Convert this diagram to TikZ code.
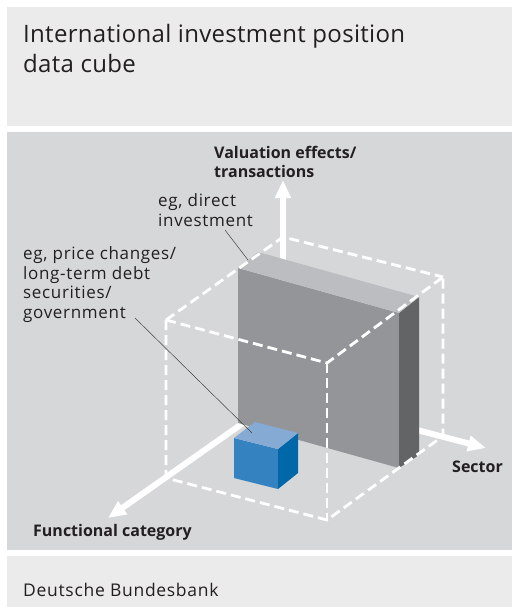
\documentclass[tikz,border=0pt]{standalone}
\usepackage{fontspec}
\setmainfont{Open Sans}
\newfontfamily\lblfont[LetterSpace=4]{Open Sans}
\newfontfamily\titlefont[LetterSpace=1.3]{Open Sans}
\usetikzlibrary{arrows.meta}
\definecolor{panellight}{HTML}{EBEBEC}
\definecolor{paneldark}{HTML}{D6D7D9}
\definecolor{txt}{HTML}{231F20}
\definecolor{slabfront}{HTML}{939598}
\definecolor{slabtop}{HTML}{BCBDC0}
\definecolor{slabside}{HTML}{636466}
\definecolor{cubetop}{HTML}{85ABD5}
\definecolor{cubefront}{HTML}{3483C0}
\definecolor{cubeside}{HTML}{0067A8}
\tikzset{
  axisarrow/.style={draw=white, line width=6pt, -{Triangle[width=15pt,length=18pt]}},
  dashedge/.style={draw=white, line width=2.8pt, dash pattern=on 10pt off 5pt},
  leader/.style={draw=txt!85, line width=0.5pt},
  lbl/.style={text=txt, inner sep=0pt, anchor=base west, align=left, font=\lblfont\fontsize{17}{19.5}\selectfont},
  boldlbl/.style={lbl, font=\fontsize{16}{18.5}\selectfont\bfseries},
}
\begin{document}
\begin{tikzpicture}[x=1pt,y=-1pt]
\useasboundingbox (0,0) rectangle (512,608);
\fill[white] (0,0) rectangle (512,608);
% panels
\fill[panellight] (7,7) rectangle (512,126);
\fill[paneldark] (7,132) rectangle (512,550);
\fill[panellight] (7,556) rectangle (512,607);
% coordinates
\coordinate (O) at (283,395);
\coordinate (A) at (283,237);
\coordinate (B) at (166,320);
\coordinate (C) at (327,363);
\coordinate (D) at (443,277);
\coordinate (E) at (166,478);
\coordinate (F) at (327,520);
\coordinate (G) at (443,436);
\coordinate (vtip) at (283,180);
\coordinate (stip) at (486,448);
\coordinate (ftip) at (108,518);
% axes
\draw[axisarrow] (O) -- (stip);
\draw[axisarrow] (O) -- (ftip);
\draw[axisarrow] (O) -- (vtip);
% slab
\fill[slabfront] (238,268) -- (399,313) -- (399,468) -- (238,423) -- cycle;
\fill[slabside] (399,313) -- (419,297) -- (419,455) -- (399,468) -- cycle;
\fill[slabtop] (238,268) -- (399,313) -- (419,297) -- (258,252) -- cycle;
\coordinate (slabcorner) at (248,260);
% blue cube
\fill[cubefront] (234,438) -- (278,449) -- (278,489) -- (234,478) -- cycle;
\fill[cubeside] (278,449) -- (298,433) -- (298,473) -- (278,489) -- cycle;
\fill[cubetop] (234,438) -- (278,449) -- (298,433) -- (255,422) -- cycle;
\coordinate (cubepoint) at (252,433);
% dashed cube
\draw[dashedge] (B) -- (A) -- (D);
\draw[dashedge] (B) -- (C) -- (D);
\draw[dashedge] (B) -- (E) -- (F) -- (G) -- (D);
\draw[dashedge] (C) -- (F);
% texts
\node[lbl, font=\titlefont\fontsize{24}{30}\selectfont] (title) at (23,72) {International investment position\\data cube};
\node[boldlbl] (vlab) at (214,177) {Valuation effects/\\transactions};
\node[lbl] (direct) at (158,226) {eg, direct\\investment};
\node[lbl] (price) at (23,318) {eg, price changes/\\long-term debt\\securities/\\government};
\node[boldlbl] (sector) at (452,472) {Sector};
\node[boldlbl] (func) at (33,536) {Functional category};
\node[lbl, font=\lblfont\fontsize{17.5}{20}\selectfont] (source) at (23,596) {Deutsche Bundesbank};
% leaders
\coordinate (dstart) at (225,230);
\coordinate (pstart) at (135,318);
\draw[leader] (dstart) -- (slabcorner);
\draw[leader] (pstart) -- (cubepoint);
\end{tikzpicture}
\end{document}
